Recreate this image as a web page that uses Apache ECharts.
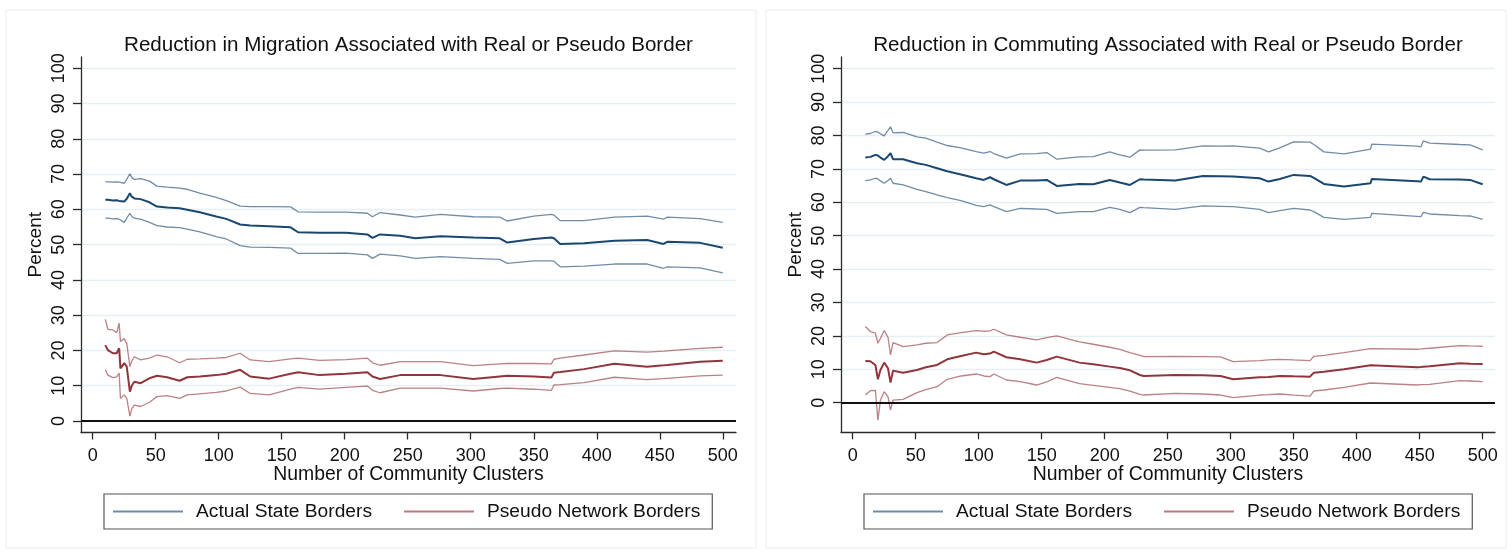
<!DOCTYPE html>
<html>
<head>
<meta charset="utf-8">
<script src="https://cdn.jsdelivr.net/npm/echarts@6/dist/echarts.min.js"></script>
<style>
html,body{margin:0;padding:0;background:#fff;}
#c{width:1512px;height:553px;}
</style>
</head>
<body>
<div id="c"></div>
<script>
// ---------- data ----------
const titles = ['Reduction in Migration Associated with Real or Pseudo Border',
                'Reduction in Commuting Associated with Real or Pseudo Border'];
const legendNames = ['Actual State Borders', 'Pseudo Network Borders'];
const yTicks = [0, 10, 20, 30, 40, 50, 60, 70, 80, 90, 100];
const xTicks = [0, 50, 100, 150, 200, 250, 300, 350, 400, 450, 500];

// Left panel: migration
const xL = [10, 12, 16, 19, 21, 22, 25, 27, 29.5, 31, 33, 38, 45, 51, 59, 69, 75, 85, 98, 106, 117, 125, 140, 157, 163, 180, 201, 218, 222, 228, 244, 256, 276, 302, 323, 329, 350, 364, 366, 371, 390, 414, 440, 453, 456, 482, 500];
const migBlueUpper = [67.8, 67.8, 67.7, 67.8, 67.7, 67.6, 67.4, 68.5, 70.1, 69.0, 68.5, 68.7, 68.0, 66.6, 66.3, 66.0, 65.7, 64.6, 63.4, 62.5, 60.9, 60.8, 60.8, 60.7, 59.3, 59.2, 59.2, 58.9, 57.9, 59.1, 58.4, 57.8, 58.6, 57.9, 57.8, 56.7, 58.1, 58.6, 58.4, 56.8, 56.8, 57.8, 58.1, 57.2, 57.8, 57.4, 56.3];
const migBlueEst = [62.7, 62.7, 62.5, 62.6, 62.4, 62.3, 62.2, 63.0, 64.6, 63.6, 63.1, 62.9, 62.0, 60.8, 60.5, 60.3, 59.9, 59.2, 58.0, 57.3, 55.7, 55.4, 55.2, 54.9, 53.5, 53.4, 53.4, 52.9, 51.9, 52.9, 52.5, 51.8, 52.4, 52.0, 51.8, 50.6, 51.6, 52.0, 51.8, 50.2, 50.4, 51.1, 51.3, 50.2, 50.8, 50.5, 49.1];
const migBlueLower = [57.5, 57.5, 57.3, 57.4, 57.2, 56.9, 56.3, 57.5, 58.9, 58.0, 57.5, 57.2, 56.3, 55.4, 55.0, 54.8, 54.4, 53.6, 52.3, 51.6, 49.7, 49.3, 49.2, 49.0, 47.5, 47.5, 47.6, 47.1, 46.1, 47.3, 46.8, 46.1, 46.6, 46.1, 45.8, 44.7, 45.4, 45.4, 45.3, 43.7, 43.9, 44.5, 44.5, 43.3, 43.7, 43.4, 42.0];
const migRedUpper = [28.8, 26.0, 25.8, 25.0, 27.7, 22.5, 23.4, 22.0, 15.4, 17.0, 18.2, 17.3, 17.8, 18.7, 18.2, 16.5, 17.5, 17.6, 17.8, 18.0, 19.2, 17.3, 16.8, 17.6, 17.8, 17.2, 17.4, 17.8, 16.5, 15.8, 16.8, 16.8, 16.8, 15.7, 16.2, 16.3, 16.3, 16.2, 17.5, 17.8, 18.7, 19.9, 19.5, 19.8, 19.9, 20.6, 20.9];
const migRedEst = [21.5, 20.1, 19.2, 19.2, 20.6, 14.9, 16.4, 15.4, 8.3, 10.0, 11.1, 10.7, 12.1, 12.8, 12.4, 11.4, 12.4, 12.6, 13.0, 13.4, 14.5, 12.6, 12.0, 13.4, 13.8, 13.0, 13.4, 13.8, 12.6, 11.9, 13.0, 13.0, 13.0, 11.9, 12.6, 12.8, 12.6, 12.3, 13.7, 13.9, 14.7, 16.2, 15.4, 15.8, 15.9, 16.8, 17.1];
const migRedLower = [14.5, 13.0, 12.3, 12.5, 13.6, 6.4, 7.4, 6.4, 1.4, 3.5, 4.5, 4.1, 5.3, 6.9, 7.2, 6.4, 7.4, 7.7, 8.1, 8.5, 9.6, 7.8, 7.4, 9.0, 9.5, 9.0, 9.5, 9.9, 8.7, 8.0, 9.3, 9.3, 9.3, 8.5, 9.2, 9.3, 9.0, 8.7, 10.2, 10.3, 10.9, 12.4, 11.7, 12.0, 12.1, 12.8, 13.0];

// Right panel: commuting
const xR = [10, 14, 18, 20, 22, 25, 28, 30, 32, 40, 51, 58, 67, 75, 86, 98, 104, 109, 112, 122, 133, 146, 154, 162, 180, 191, 204, 212, 220, 228, 231, 256, 278, 292, 302, 323, 330, 339, 350, 363, 366, 374, 390, 411, 412, 448, 451, 453, 458, 482, 490, 500];
const comBlueUpper = [80.4, 80.6, 81.2, 81.0, 80.5, 79.9, 81.5, 82.6, 80.8, 80.9, 79.6, 79.2, 78.0, 77.0, 76.3, 75.2, 74.7, 75.2, 74.6, 73.2, 74.5, 74.6, 74.9, 72.9, 73.6, 73.7, 75.1, 74.2, 73.5, 75.7, 75.6, 75.7, 76.9, 76.8, 76.9, 76.2, 75.1, 76.3, 78.1, 78.0, 77.3, 75.1, 74.5, 75.9, 77.4, 76.8, 76.6, 78.4, 77.7, 77.3, 77.2, 75.7];
const comBlueEst = [73.4, 73.6, 74.2, 74.0, 73.4, 72.7, 73.8, 74.7, 72.9, 72.9, 71.7, 71.2, 70.2, 69.3, 68.3, 67.2, 66.7, 67.5, 66.9, 65.2, 66.5, 66.5, 66.7, 64.9, 65.5, 65.4, 66.7, 65.9, 65.2, 66.9, 66.8, 66.5, 67.9, 67.8, 67.7, 67.2, 66.2, 67.0, 68.2, 67.9, 67.3, 65.5, 64.7, 65.7, 67.0, 66.3, 66.2, 67.7, 66.9, 66.8, 66.7, 65.4];
const comBlueLower = [66.5, 66.7, 67.2, 67.0, 66.4, 65.7, 66.5, 67.2, 65.7, 65.2, 63.9, 63.2, 62.2, 61.4, 60.5, 59.1, 58.7, 59.2, 58.7, 57.2, 58.2, 58.0, 57.9, 56.7, 57.2, 57.2, 58.5, 57.9, 56.9, 58.5, 58.4, 57.9, 58.9, 58.8, 58.7, 57.9, 56.9, 57.5, 58.2, 57.7, 57.2, 55.5, 54.9, 55.5, 56.7, 55.8, 55.7, 57.0, 56.5, 56.0, 55.9, 54.9];
const comRedUpper = [22.8, 21.3, 20.8, 17.8, 19.3, 21.6, 19.6, 14.3, 18.0, 16.8, 17.3, 17.8, 18.0, 20.3, 21.0, 21.6, 21.4, 21.5, 22.0, 20.3, 19.6, 18.8, 19.5, 20.0, 18.2, 17.5, 16.6, 16.0, 15.0, 14.2, 13.8, 13.9, 13.8, 13.7, 12.3, 12.6, 12.8, 13.0, 12.8, 12.6, 13.9, 14.2, 15.0, 16.2, 16.3, 16.0, 16.1, 16.2, 16.3, 17.1, 17.0, 16.9];
const comRedEst = [12.5, 12.4, 11.3, 7.0, 9.8, 12.0, 10.3, 6.0, 9.6, 9.0, 9.8, 10.6, 11.3, 13.0, 14.0, 15.0, 14.5, 14.7, 15.3, 13.6, 13.0, 12.0, 12.8, 13.8, 12.0, 11.5, 10.8, 10.4, 9.7, 8.3, 8.0, 8.3, 8.2, 8.0, 7.0, 7.6, 7.7, 8.0, 7.9, 7.8, 9.0, 9.3, 10.0, 11.2, 11.3, 10.6, 10.7, 10.8, 10.9, 11.8, 11.7, 11.6];
const comRedLower = [2.3, 3.6, 3.7, -5.2, 0.8, 3.3, 1.8, -2.2, 0.8, 1.0, 3.0, 3.9, 4.8, 7.0, 8.0, 8.6, 8.0, 7.8, 8.6, 6.8, 6.3, 5.3, 6.2, 7.6, 5.7, 5.2, 4.6, 4.2, 3.5, 2.5, 2.3, 2.8, 2.6, 2.3, 1.5, 2.3, 2.4, 2.6, 2.3, 2.0, 3.5, 3.8, 4.6, 5.9, 6.0, 5.3, 5.4, 5.4, 5.5, 6.6, 6.5, 6.3];

// ---------- styling ----------
const FONT = 'Liberation Sans, Arial, Helvetica, sans-serif';
const NAVY = '#1a476f', NAVY_CI = 'rgba(26,71,111,0.62)';
const MAROON = '#90353b', MAROON_CI = 'rgba(144,53,59,0.62)';
const GRID_C = '#e6eff1';
const AXIS_C = '#2a2a2a';

const zip = (xs, ys) => xs.map((x, i) => [x, ys[i]]);

function lineSeries(name, xs, ys, gi, color, width, zeroLine) {
  const s = {
    type: 'line', name: name, xAxisIndex: gi, yAxisIndex: gi,
    data: zip(xs, ys), symbol: 'none', showSymbol: false,
    lineStyle: { color: color, width: width }, itemStyle: { color: color },
    emphasis: { disabled: true }, silent: true, animation: false, z: 3
  };
  if (zeroLine) {
    s.markLine = {
      silent: true, symbol: 'none', animation: false,
      label: { show: false },
      lineStyle: { color: '#111', width: 2, type: 'solid' },
      data: [{ yAxis: 0 }]
    };
  }
  return s;
}

const grids = [
  { left: 81, top: 57, width: 655, height: 375.5 },
  { left: 841, top: 57, width: 654, height: 375.3 }
];
const xRanges = [[-9.3, 510.5], [-9.3, 509.8]];
const yRanges = [[-3.27, 103.2], [-8.86, 103.5]];

function xAxis(gi) {
  return {
    type: 'value', gridIndex: gi, min: xRanges[gi][0], max: xRanges[gi][1],
    name: 'Number of Community Clusters', nameLocation: 'middle', nameGap: 33,
    nameMoveOverlap: false,
    nameTextStyle: { fontSize: 19.4, color: '#111', fontFamily: FONT },
    axisLine: { show: true, onZero: false, lineStyle: { color: AXIS_C, width: 1.3 } },
    axisTick: { show: true, length: 7, customValues: xTicks, lineStyle: { color: AXIS_C, width: 1.3 } },
    axisLabel: { customValues: xTicks, fontSize: 18, color: '#111', fontFamily: FONT, margin: 15 },
    splitLine: { show: false }
  };
}
function yAxis(gi) {
  return {
    type: 'value', gridIndex: gi, min: yRanges[gi][0], max: yRanges[gi][1],
    name: 'Percent', nameLocation: 'middle', nameGap: 36,
    nameMoveOverlap: false,
    nameTextStyle: { fontSize: 19, color: '#111', fontFamily: FONT },
    axisLine: { show: true, onZero: false, lineStyle: { color: AXIS_C, width: 1.3 } },
    axisTick: { show: true, length: 8, customValues: yTicks, lineStyle: { color: AXIS_C, width: 1.3 } },
    axisLabel: { customValues: yTicks, rotate: 90, fontSize: 18, color: '#111', fontFamily: FONT, margin: 12.6 },
    splitLine: { show: true, lineStyle: { color: GRID_C, width: 1.3 } }
  };
}

function legend(left) {
  return {
    left: left, top: 494, orient: 'horizontal',
    padding: [8, 12, 8, 9], itemGap: 32, itemWidth: 70, itemHeight: 2,
    icon: 'rect', borderColor: '#555', borderWidth: 1.2, borderRadius: 0,
    selectedMode: false,
    textStyle: { fontSize: 19.2, color: '#111', fontFamily: FONT, padding: [0, 0, 0, 8], lineHeight: 19 },
    data: [
      { name: legendNames[0], itemStyle: { color: '#6f8daf' } },
      { name: legendNames[1], itemStyle: { color: '#b9797e' } }
    ]
  };
}

const option = {
  animation: false,
  backgroundColor: '#fff',
  textStyle: { fontFamily: FONT },
  title: [
    { text: titles[0], left: 408.5, top: 35, textAlign: 'center', padding: 0,
      textStyle: { fontSize: 20.6, fontWeight: 'normal', color: '#111', fontFamily: FONT } },
    { text: titles[1], left: 1168, top: 35, textAlign: 'center', padding: 0,
      textStyle: { fontSize: 20.6, fontWeight: 'normal', color: '#111', fontFamily: FONT } }
  ],
  graphic: [
    { type: 'rect', shape: { x: 6, y: 10, width: 750, height: 538 }, style: { fill: 'none', stroke: '#ececec', lineWidth: 1 }, silent: true, z: -10 },
    { type: 'rect', shape: { x: 766, y: 10, width: 740, height: 538 }, style: { fill: 'none', stroke: '#ececec', lineWidth: 1 }, silent: true, z: -10 }
  ],
  legend: [legend(104), legend(864)],
  grid: grids,
  xAxis: [xAxis(0), xAxis(1)],
  yAxis: [yAxis(0), yAxis(1)],
  series: [
    lineSeries(legendNames[0] + ' (upper)', xL, migBlueUpper, 0, NAVY_CI, 1.3),
    lineSeries(legendNames[0], xL, migBlueEst, 0, NAVY, 2, true),
    lineSeries(legendNames[0] + ' (lower)', xL, migBlueLower, 0, NAVY_CI, 1.3),
    lineSeries(legendNames[1] + ' (upper)', xL, migRedUpper, 0, MAROON_CI, 1.3),
    lineSeries(legendNames[1], xL, migRedEst, 0, MAROON, 2),
    lineSeries(legendNames[1] + ' (lower)', xL, migRedLower, 0, MAROON_CI, 1.3),
    lineSeries(legendNames[0] + ' (upper)', xR, comBlueUpper, 1, NAVY_CI, 1.3),
    lineSeries(legendNames[0], xR, comBlueEst, 1, NAVY, 2, true),
    lineSeries(legendNames[0] + ' (lower)', xR, comBlueLower, 1, NAVY_CI, 1.3),
    lineSeries(legendNames[1] + ' (upper)', xR, comRedUpper, 1, MAROON_CI, 1.3),
    lineSeries(legendNames[1], xR, comRedEst, 1, MAROON, 2),
    lineSeries(legendNames[1] + ' (lower)', xR, comRedLower, 1, MAROON_CI, 1.3)
  ]
};

const chart = echarts.init(document.getElementById('c'), null, { renderer: 'canvas' });
chart.setOption(option);
</script>
</body>
</html>
